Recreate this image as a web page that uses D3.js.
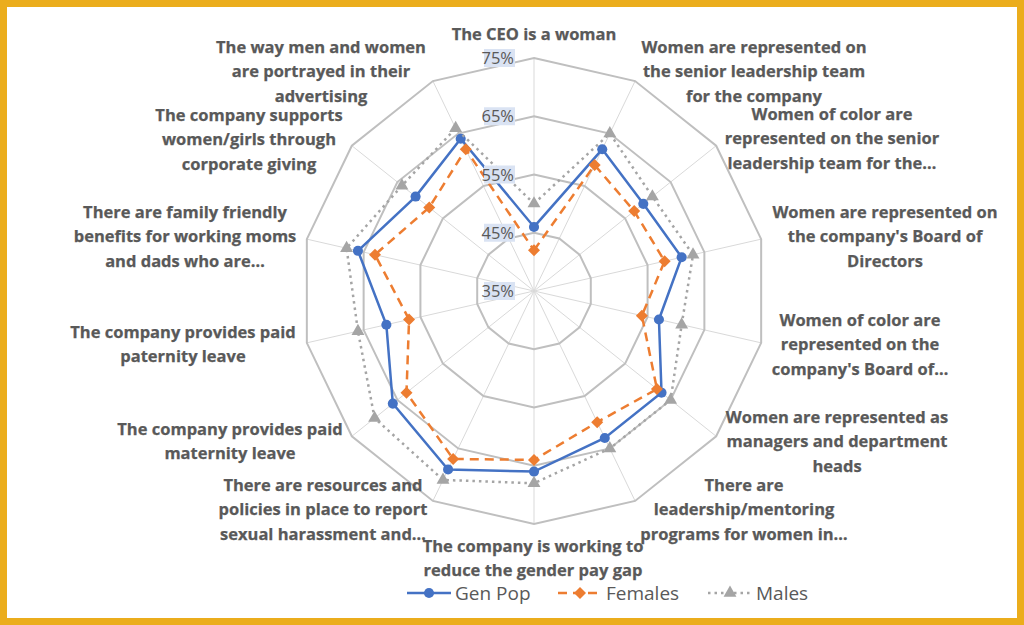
<!DOCTYPE html>
<html>
<head>
<meta charset="utf-8">
<script src="https://cdn.jsdelivr.net/npm/d3@7"></script>
<style>
  html, body { margin: 0; padding: 0; background: #fff; }
  svg { display: block; }
  text { font-family: "Open Sans", "Noto Sans", sans-serif; fill: #595959; }
</style>
</head>
<body>
<svg id="chart" width="1024" height="625"></svg>
<script>
// Axis labels, clockwise from the top
var categories = [
  ["The CEO is a woman"],
  ["Women are represented on", "the senior leadership team", "for the company"],
  ["Women of color are", "represented on the senior", "leadership team for the\u2026"],
  ["Women are represented on", "the company's Board of", "Directors"],
  ["Women of color are", "represented on the", "company's Board of\u2026"],
  ["Women are represented as", "managers and department", "heads"],
  ["There are", "leadership/mentoring", "programs for women in\u2026"],
  ["The company is working to", "reduce the gender pay gap"],
  ["There are resources and", "policies in place to report", "sexual harassment and\u2026"],
  ["The company provides paid", "maternity leave"],
  ["The company provides paid", "paternity leave"],
  ["There are family friendly", "benefits for working moms", "and dads who are\u2026"],
  ["The company supports", "women/girls through", "corporate giving"],
  ["The way men and women", "are portrayed in their", "advertising"]
];

// Values in percent
var genPop  = [46, 62, 59, 61, 57, 63, 63, 66, 69, 66, 61, 66, 61, 64];
var females = [42, 59, 57, 58, 54, 62, 60, 64, 67, 63, 57, 63, 58, 62];
var males   = [50, 65, 61, 63, 61, 65, 65, 68, 71, 70, 66, 68, 64, 66];

var seriesNames = ["Gen Pop", "Females", "Males"];
var ticks = [35, 45, 55, 65, 75];

// layout
var W = 1024, H = 625;
var cx = 534, cy = 291, R = 233;
var lineH = 24.3;
// where each category label block sits (centre x, first baseline)
var labelPos = [
  [534, 40], [754, 53], [832, 120], [885, 218], [860, 326], [837, 423], [744, 491],
  [533, 552], [323, 491], [230, 435], [183, 338], [185, 218], [249, 121], [321, 53]
];

var svg = d3.select("#chart");

svg.append("rect")
  .attr("x", 3.5).attr("y", 3.5)
  .attr("width", W - 7).attr("height", H - 7)
  .attr("fill", "#fff")
  .attr("stroke", "#EBAD1C")
  .attr("stroke-width", 7);

var r = d3.scaleLinear().domain([35, 75]).range([0, R]);
var angle = d3.scaleLinear().domain([0, categories.length]).range([0, 2 * Math.PI]);

function pt(i, v) {
  var a = angle(i);
  return [cx + r(v) * Math.sin(a), cy - r(v) * Math.cos(a)];
}

var g = svg.append("g");

// spokes
g.selectAll("line.spoke")
  .data(categories)
  .enter()
  .append("line")
  .attr("class", "spoke")
  .attr("x1", cx).attr("y1", cy)
  .attr("x2", function(d, i) { return pt(i, 75)[0]; })
  .attr("y2", function(d, i) { return pt(i, 75)[1]; })
  .attr("stroke", "#D9D9D9")
  .attr("stroke-width", 1);

// rings
g.selectAll("polygon.ring")
  .data(ticks.slice(1))
  .enter()
  .append("polygon")
  .attr("class", "ring")
  .attr("points", function(t) {
    return categories.map(function(c, i) { return pt(i, t).join(","); }).join(" ");
  })
  .attr("fill", "none")
  .attr("stroke", "#BFBFBF")
  .attr("stroke-width", 2);

// series
var diamond = d3.symbol().type(d3.symbolSquare).size(72);
var series = [
  {name: seriesNames[0], values: genPop,  color: "#4472C4", dash: null,    sym: d3.symbol().type(d3.symbolCircle).size(80),   rot: 0},
  {name: seriesNames[1], values: females, color: "#ED7D31", dash: "9,6",   sym: diamond,                                     rot: 45},
  {name: seriesNames[2], values: males,   color: "#A5A5A5", dash: "2.5,4", sym: d3.symbol().type(d3.symbolTriangle).size(72), rot: 0}
];

var line = d3.line().curve(d3.curveLinearClosed);

series.forEach(function(s) {
  var pts = s.values.map(function(v, i) { return pt(i, v); });
  g.append("path")
    .attr("d", line(pts))
    .attr("fill", "none")
    .attr("stroke", s.color)
    .attr("stroke-width", 2.5)
    .attr("stroke-dasharray", s.dash);
  g.selectAll(null)
    .data(pts)
    .enter()
    .append("path")
    .attr("d", s.sym)
    .attr("transform", function(p) { return "translate(" + p[0] + "," + p[1] + ") rotate(" + s.rot + ")"; })
    .attr("fill", s.color);
});

// tick labels along the top spoke, above the lines
var tk = g.selectAll("g.tick")
  .data(ticks)
  .enter()
  .append("g")
  .attr("class", "tick")
  .attr("transform", function(t) { return "translate(" + (cx - 19) + "," + pt(0, t)[1] + ")"; });
tk.append("rect")
  .attr("x", -31).attr("y", -9)
  .attr("width", 31).attr("height", 18)
  .attr("fill", "#DAE3F3");
tk.append("text")
  .attr("x", -1).attr("y", 6)
  .attr("text-anchor", "end")
  .style("font-size", "16.5px")
  .text(function(t) { return t + "%"; });

// category labels
categories.forEach(function(lines, i) {
  var t = g.append("text")
    .attr("text-anchor", "middle")
    .style("font-size", "16.5px")
    .style("font-weight", "bold")
    .style("stroke", "#595959")
    .style("stroke-width", "0.25px");
  lines.forEach(function(l, k) {
    t.append("tspan")
      .attr("x", labelPos[i][0])
      .attr("y", labelPos[i][1] + k * lineH)
      .text(l);
  });
});

// legend
var legX = [407, 558, 708];
var leg = svg.append("g").attr("transform", "translate(0,593)");
series.forEach(function(s, i) {
  var lg = leg.append("g").attr("transform", "translate(" + legX[i] + ",0)");
  lg.append("line")
    .attr("x1", 0).attr("x2", 44)
    .attr("stroke", s.color)
    .attr("stroke-width", 2.5)
    .attr("stroke-dasharray", s.dash);
  lg.append("path")
    .attr("d", s.sym)
    .attr("transform", "translate(22,0) rotate(" + s.rot + ")")
    .attr("fill", s.color);
  lg.append("text")
    .attr("x", 48).attr("y", 7)
    .style("font-size", "19px")
    .text(s.name);
});
</script>
</body>
</html>
